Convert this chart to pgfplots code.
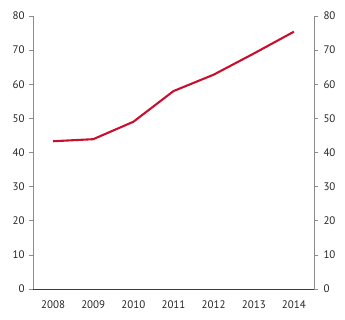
\documentclass[border=0pt]{standalone}
\usepackage{pgfplots}
\pgfplotsset{compat=1.18}
\usepackage{fontspec}
\setmainfont{PT Sans}
\definecolor{lred}{RGB}{200,16,46}
\definecolor{ygrey}{RGB}{140,140,140}
\definecolor{xdark}{RGB}{60,60,60}
\begin{document}
\begin{tikzpicture}
\pgfplotsset{common/.style={width=281bp,height=273bp,scale only axis,
  xmin=-0.5,xmax=6.5,ymin=0,ymax=80,ytick={0,10,...,80},
  tick align=outside,major tick length=4bp,
  tick style={ygrey,line width=0.6pt},
  ticklabel style={font=\fontsize{11}{13}\selectfont, text=black!85},
  /pgf/number format/assume math mode=true}}
\begin{axis}[common, axis x line*=bottom, axis y line*=left,
  xtick={0,...,6}, xticklabels={2008,2009,2010,2011,2012,2013,2014},
  x tick style={draw=none},
  x axis line style={xdark, line width=0.8pt},
  y axis line style={ygrey,line width=0.8pt},
  xticklabel style={yshift=-4bp}, yticklabel style={xshift=-1bp}]
\addplot[lred, line width=2.1bp, mark=none] coordinates {(0,43.3)(1,43.9)(2,49)(3,58)(4,62.8)(5,69)(6,75.4)};
\end{axis}
\begin{axis}[common, axis x line=none, axis y line*=right,
  y axis line style={ygrey,line width=0.8pt},
  yticklabel style={xshift=2bp}]
\end{axis}
\path (-33bp,-31bp) rectangle (312bp,289bp);
\end{tikzpicture}
\end{document}
